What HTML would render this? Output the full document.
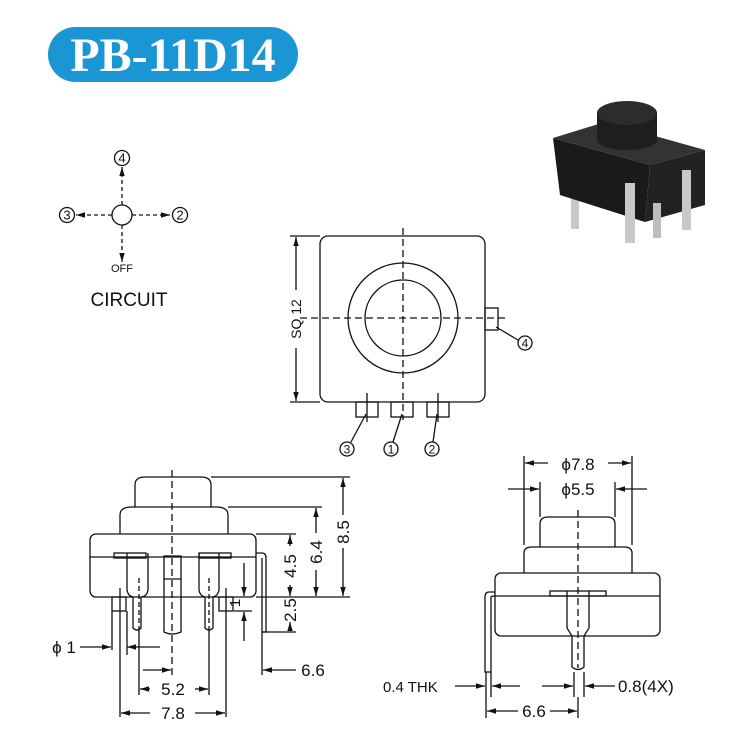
<!DOCTYPE html>
<html><head><meta charset="utf-8"><style>
html,body{margin:0;padding:0;background:#fff;}
svg{display:block;}
text{font-family:"Liberation Sans",sans-serif;fill:#111;}
</style></head><body>
<svg width="735" height="744" viewBox="0 0 735 744" xmlns="http://www.w3.org/2000/svg">
<defs>
<marker id="a" viewBox="0 0 10 10" refX="10" refY="5" markerWidth="7" markerHeight="7" orient="auto-start-reverse"><path d="M0,2 L10,5 L0,8 z" fill="#111"/></marker>
</defs>
<!-- title -->
<rect x="48" y="27" width="250" height="55" rx="27.5" fill="#1a96d4"/>
<text x="173" y="71" text-anchor="middle" style="font-family:'Liberation Serif',serif;font-weight:bold;font-size:48px;fill:#fff">PB-11D14</text>

<!-- circuit -->
<g stroke="#111" stroke-width="1.3" fill="none">
<circle cx="122" cy="215" r="10"/>
<line x1="122" y1="205" x2="122" y2="167" stroke-dasharray="4,3" marker-end="url(#a)"/>
<line x1="122" y1="225" x2="122" y2="262" stroke-dasharray="4,3" marker-end="url(#a)"/>
<line x1="112" y1="215" x2="76" y2="215" stroke-dasharray="4,3" marker-end="url(#a)"/>
<line x1="132" y1="215" x2="170" y2="215" stroke-dasharray="4,3" marker-end="url(#a)"/>
<circle cx="122" cy="158" r="7.5"/><circle cx="67" cy="215" r="7.5"/><circle cx="180" cy="215" r="7.5"/>
</g>
<g font-size="13" text-anchor="middle">
<text x="122" y="162.5">4</text><text x="67" y="219.5">3</text><text x="180" y="219.5">2</text>
</g>
<text x="122" y="272" font-size="11" text-anchor="middle">OFF</text>
<text x="129" y="306" font-size="19" text-anchor="middle">CIRCUIT</text>

<!-- photo -->
<g>
<rect x="571" y="160" width="8" height="68" fill="#c8c8c8"/>
<rect x="682" y="160" width="9" height="70" fill="#c8c8c8"/>
<polygon points="553,138 650,165 645,222 560,195" fill="#1a1a1a"/>
<polygon points="650,165 705,150 705,205 645,222" fill="#222"/>
<polygon points="553,138 605,122 705,150 650,165" fill="#333"/>
<rect x="597" y="113" width="60" height="27" fill="#1e1e1e"/>
<ellipse cx="627" cy="140" rx="30" ry="10" fill="#1e1e1e"/>
<ellipse cx="627" cy="113" rx="30" ry="12" fill="#2c2c2c"/>
<rect x="571" y="215" width="8" height="14" fill="#c8c8c8"/>
<rect x="625" y="183" width="10" height="60" fill="#c8c8c8"/>
<rect x="653" y="203" width="8" height="35" fill="#bdbdbd"/>
<rect x="682" y="170" width="9" height="60" fill="#c8c8c8"/>
</g>

<!-- top view -->
<g stroke="#111" stroke-width="1.3" fill="none">
<rect x="320" y="236" width="165" height="166" rx="8"/>
<circle cx="403" cy="318" r="55"/>
<circle cx="403" cy="318" r="38"/>
<line x1="403" y1="228" x2="403" y2="420" stroke-dasharray="7,4"/>
<line x1="300" y1="318" x2="506" y2="318" stroke-dasharray="7,4"/>
<rect x="485" y="308" width="13" height="22"/>
<rect x="356" y="402" width="22" height="15"/>
<rect x="391" y="402" width="22" height="15"/>
<rect x="427" y="402" width="22" height="15"/>
<line x1="367" y1="393" x2="367" y2="422"/>
<line x1="438" y1="393" x2="438" y2="422"/>
<line x1="366" y1="414" x2="351" y2="442"/>
<line x1="402" y1="414" x2="393" y2="442"/>
<line x1="437" y1="414" x2="433" y2="442"/>
<line x1="496" y1="327" x2="518" y2="340"/>
<circle cx="347" cy="449" r="7"/><circle cx="391" cy="449" r="7"/><circle cx="432" cy="449" r="7"/><circle cx="525" cy="343" r="7"/>
<line x1="290" y1="236" x2="320" y2="236"/><line x1="290" y1="402" x2="320" y2="402"/>
<line x1="296" y1="237" x2="296" y2="290" marker-start="url(#a)"/>
<line x1="296" y1="348" x2="296" y2="401" marker-end="url(#a)"/>
</g>
<g font-size="12" text-anchor="middle">
<text x="347" y="453.5">3</text><text x="391" y="453.5">1</text><text x="432" y="453.5">2</text><text x="525" y="347.5">4</text>
</g>
<text transform="translate(301,319) rotate(-90)" font-size="14" text-anchor="middle">SQ 12</text>

<!-- left side view -->
<g stroke="#111" stroke-width="1.3" fill="none">
<path d="M135,507 V485 Q135,477 145,477 H201 Q211,477 211,485 V507"/>
<path d="M120,534 V515 Q120,507 132,507 H216 Q228,507 228,515 V534"/>
<rect x="90" y="534" width="166" height="63" rx="6"/>
<line x1="90" y1="557" x2="256" y2="557"/>
<line x1="172" y1="470" x2="172" y2="675" stroke-dasharray="7,4"/>
<rect x="114" y="553" width="32" height="5"/>
<rect x="199" y="553" width="32" height="5"/>
<path d="M127,553 V590 Q128,596 133,597 M148,553 V590 Q147,596 142,597"/>
<path d="M133,597 V628 Q137,632 141,628 V597"/>
<path d="M164,556 V632 Q172,636 181,632 V556 Z"/>
<line x1="164" y1="579" x2="181" y2="579"/>
<path d="M199,553 V590 Q200,596 205,597 M219,553 V590 Q218,596 213,597"/>
<path d="M205,597 V628 Q209,632 213,628 V597"/>
<line x1="139" y1="578" x2="139" y2="628" stroke-dasharray="5,3"/>
<line x1="209" y1="578" x2="209" y2="628" stroke-dasharray="5,3"/>
<rect x="112" y="597" width="14" height="14"/>
<rect x="219" y="597" width="14" height="14"/>
<line x1="120" y1="588" x2="120" y2="717"/>
<line x1="226" y1="588" x2="226" y2="717"/>
<line x1="139" y1="628" x2="139" y2="695"/>
<line x1="209" y1="628" x2="209" y2="695"/>
<path d="M256,553 H262 Q266,553 266,558 V632 H262 V558"/>
<line x1="211" y1="477" x2="350" y2="477"/>
<line x1="228" y1="507" x2="322" y2="507"/>
<line x1="256" y1="534" x2="296" y2="534"/>
<line x1="256" y1="597" x2="350" y2="597"/>
<line x1="262" y1="632" x2="296" y2="632"/>
<line x1="343" y1="478" x2="343" y2="515" marker-start="url(#a)"/>
<line x1="343" y1="548" x2="343" y2="596" marker-end="url(#a)"/>
<line x1="316" y1="508" x2="316" y2="533" marker-start="url(#a)"/>
<line x1="316" y1="570" x2="316" y2="596" marker-end="url(#a)"/>
<line x1="290" y1="535" x2="290" y2="546" marker-start="url(#a)"/>
<line x1="290" y1="585" x2="290" y2="596" marker-end="url(#a)"/>
<line x1="290" y1="622" x2="290" y2="631" marker-start="url(#a)"/>
<line x1="244" y1="563" x2="244" y2="596" marker-end="url(#a)"/>
<line x1="244" y1="641" x2="244" y2="612" marker-end="url(#a)"/>
<line x1="234" y1="611" x2="252" y2="611"/>
<line x1="262" y1="632" x2="262" y2="675"/>
<line x1="296" y1="670" x2="263" y2="670" marker-end="url(#a)"/>
<line x1="80" y1="647" x2="111" y2="647" marker-end="url(#a)"/>
<line x1="160" y1="647" x2="127" y2="647" marker-end="url(#a)"/>
<line x1="112" y1="611" x2="112" y2="650"/><line x1="127" y1="611" x2="127" y2="655"/>
<line x1="143" y1="670" x2="171" y2="670" marker-end="url(#a)"/>
<line x1="150" y1="689" x2="140" y2="689" marker-end="url(#a)"/>
<line x1="195" y1="689" x2="208" y2="689" marker-end="url(#a)"/>
<line x1="150" y1="713" x2="121" y2="713" marker-end="url(#a)"/>
<line x1="195" y1="713" x2="225" y2="713" marker-end="url(#a)"/>
</g>
<g font-size="17" text-anchor="middle">
<text transform="translate(349,532) rotate(-90)">8.5</text>
<text transform="translate(322,552) rotate(-90)">6.4</text>
<text transform="translate(296,566) rotate(-90)">4.5</text>
<text transform="translate(296,610) rotate(-90)">2.5</text>
<text transform="translate(240,603) rotate(-90)" font-size="15">1</text>
<text x="173" y="695">5.2</text>
<text x="173" y="719">7.8</text>
<text x="313" y="676">6.6</text>
<text x="64" y="653">ϕ 1</text>
</g>

<!-- right side view -->
<g stroke="#111" stroke-width="1.3" fill="none">
<path d="M540,547 V524 Q540,517 548,517 H607 Q615,517 615,524 V547"/>
<path d="M524,573 V553 Q524,547 532,547 H624 Q632,547 632,553 V573"/>
<rect x="495" y="573" width="165" height="63" rx="6"/>
<line x1="495" y1="596" x2="660" y2="596"/>
<path d="M495,592 H489 Q485,592 485,597 V672 H491 V597 Q491,596 495,596"/>
<rect x="550" y="591" width="56" height="5"/>
<path d="M567,591 V628 L572,636 V667 Q578,672 584,667 V636 L589,628 V591"/>
<line x1="578" y1="510" x2="578" y2="668" stroke-dasharray="7,4"/>
<line x1="524" y1="456" x2="524" y2="545"/><line x1="632" y1="456" x2="632" y2="545"/>
<line x1="540" y1="482" x2="540" y2="517"/><line x1="615" y1="482" x2="615" y2="517"/>
<line x1="548" y1="463" x2="525" y2="463" marker-end="url(#a)"/>
<line x1="608" y1="463" x2="631" y2="463" marker-end="url(#a)"/>
<line x1="508" y1="489" x2="539" y2="489" marker-end="url(#a)"/>
<line x1="647" y1="489" x2="616" y2="489" marker-end="url(#a)"/>
<line x1="486" y1="672" x2="486" y2="718"/><line x1="491" y1="672" x2="491" y2="697"/>
<line x1="574" y1="672" x2="574" y2="697"/><line x1="584" y1="672" x2="584" y2="697"/>
<line x1="578" y1="697" x2="578" y2="718"/>
<line x1="455" y1="686" x2="485" y2="686" marker-end="url(#a)"/>
<line x1="520" y1="686" x2="492" y2="686" marker-end="url(#a)"/>
<line x1="542" y1="686" x2="573" y2="686" marker-end="url(#a)"/>
<line x1="615" y1="686" x2="585" y2="686" marker-end="url(#a)"/>
<line x1="518" y1="711" x2="487" y2="711" marker-end="url(#a)"/>
<line x1="550" y1="711" x2="577" y2="711" marker-end="url(#a)"/>
</g>
<g font-size="17" text-anchor="middle">
<text x="578" y="470">ϕ7.8</text>
<text x="578" y="495">ϕ5.5</text>
<text x="534" y="717">6.6</text>
</g>
<text x="383" y="692" font-size="15">0.4 THK</text>
<text x="618" y="692" font-size="17">0.8(4X)</text>
</svg>
</body></html>
